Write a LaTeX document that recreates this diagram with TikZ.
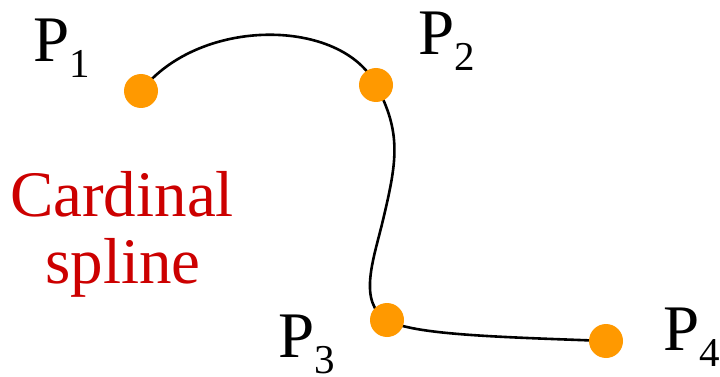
\documentclass[tikz,border=0pt]{standalone}
\usepackage{fontspec}
\setmainfont{Liberation Serif}
\definecolor{dotorange}{RGB}{255,153,0}
\definecolor{labelred}{RGB}{204,0,0}
\newcommand{\ptlabel}[1]{P\raisebox{-16pt}{\fontsize{41}{41}\selectfont #1}}
\tikzset{
  ctrlpt/.style={circle, fill=dotorange, draw=none, minimum size=34pt, inner sep=0pt},
  plabel/.style={anchor=base west, inner sep=0pt, font=\fontsize{65}{78}\selectfont},
  redtext/.style={anchor=base, inner sep=0pt, text=labelred, font=\fontsize{65}{78}\selectfont},
  splinepath/.style={line width=2.6pt, black}
}
\begin{document}
\begin{tikzpicture}[x=1pt, y=-1pt]
\useasboundingbox (0,0) rectangle (720,377);
% control point positions
\coordinate (c1) at (141,91);
\coordinate (c2) at (376,85);
\coordinate (c3) at (387,320);
\coordinate (c4) at (606,341);
\coordinate (m23) at (383,220);
% spline
\draw[splinepath] (c1) .. controls (200,16) and (342,18) .. (c2)
  .. controls (402,133) and (396.8,161.8) .. (m23)
  .. controls (373.8,258.8) and (357,302.5) .. (c3)
  .. controls (412.5,335) and (500,337) .. (c4);
% dots
\node[ctrlpt] (p1) at (c1) {};
\node[ctrlpt] (p2) at (c2) {};
\node[ctrlpt] (p3) at (c3) {};
\node[ctrlpt] (p4) at (c4) {};
% labels
\node[plabel] (l1) at (33,62) {\ptlabel{1}};
\node[plabel] (l2) at (418,55) {\ptlabel{2}};
\node[plabel] (l3) at (278,357) {\ptlabel{3}};
\node[plabel] (l4) at (663,350) {\ptlabel{4}};
\node[redtext] (t1) at (122,216) {Cardinal};
\node[redtext] (t2) at (123,283) {spline};
\end{tikzpicture}
\end{document}
